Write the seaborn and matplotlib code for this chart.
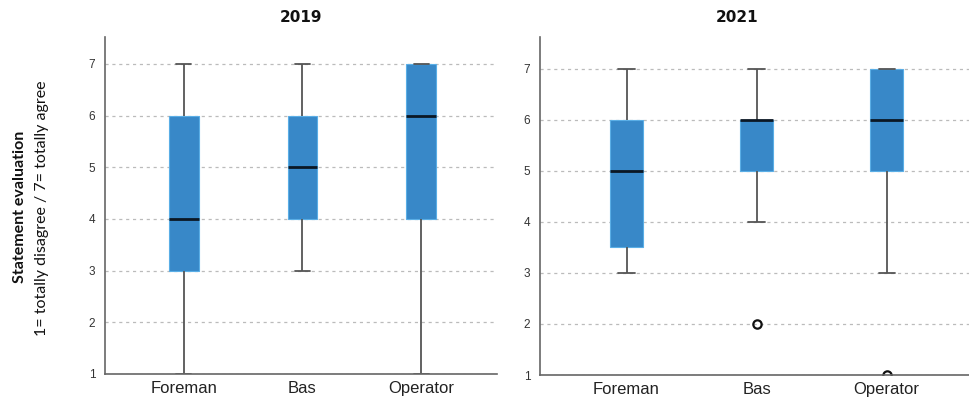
import numpy as np
import pandas as pd
import seaborn as sns
import matplotlib
matplotlib.use("Agg")
import matplotlib.pyplot as plt

# Survey responses (7-point Likert scale) per occupational group
groups = ["Foreman", "Bas", "Operator"]

resp_2019_foreman = [1, 3, 3, 4, 4, 5, 6, 6, 7]
resp_2019_bas = [3, 4, 4, 5, 5, 5, 6, 6, 7]
resp_2019_operator = [1, 4, 4, 5, 6, 6, 7, 7, 7]

resp_2021_foreman = [3, 3, 4, 5, 6, 6, 7]
resp_2021_bas = [2, 4, 5, 5, 6, 6, 6, 6, 7]
resp_2021_operator = [1, 3, 5, 5, 6, 6, 7, 7, 7]

years = ["2019", "2021"]
y_ticks = [1, 2, 3, 4, 5, 6, 7]

ylabel_bold = "Statement evaluation"
ylabel_plain = "1= totally disagree / 7= totally agree"


def long_frame(series):
    rows = []
    for g, vals in zip(groups, series):
        rows += [(g, v) for v in vals]
    return pd.DataFrame(rows, columns=["group", "score"])


data = {
    "2019": long_frame([resp_2019_foreman, resp_2019_bas, resp_2019_operator]),
    "2021": long_frame([resp_2021_foreman, resp_2021_bas, resp_2021_operator]),
}

sns.set_style("white")
plt.rcParams["font.family"] = ["Liberation Sans", "DejaVu Sans"]

fig = plt.figure(figsize=(9.70, 3.99), dpi=100)
axes_rects = {
    "2019": [105 / 970, 1 - 374 / 399, 392 / 970, 337 / 399],
    "2021": [540 / 970, 1 - 375 / 399, 430 / 970, 338 / 399],
}
ytops = {"2019": 7.52, "2021": 7.62}
title_x = {"2019": 301 / 970, "2021": 737 / 970}

box_color = "#3888c8"

for yr in years:
    ax = fig.add_axes(axes_rects[yr])
    sns.boxplot(
        data=data[yr], x="group", y="score", order=groups, ax=ax,
        color=box_color, saturation=1, width=0.25, whis=1.5,
        boxprops=dict(edgecolor="#5aaee6", linewidth=0.8),
        whiskerprops=dict(color="#555555", linewidth=1.3),
        capprops=dict(color="#555555", linewidth=1.3),
        medianprops=dict(color="#0b1724", linewidth=2.0),
        flierprops=dict(marker="o", markerfacecolor="none",
                        markeredgecolor="#111111", markersize=6,
                        markeredgewidth=1.6),
    )
    ax.set_xlim(-0.665, 2.64)
    ax.set_ylim(1, ytops[yr])
    ax.set_yticks(y_ticks)
    ax.set_yticklabels([str(t) for t in y_ticks], fontsize=8.5,
                       color="#333333")
    ax.tick_params(axis="y", length=0, pad=7)
    ax.tick_params(axis="x", length=0, pad=5, labelsize=12,
                   labelcolor="#222222")
    ax.set_xlabel("")
    ax.set_ylabel("")
    ax.set_axisbelow(True)
    ax.yaxis.grid(True, linestyle=(0, (2.5, 3)), color="#bbbbbb",
                  linewidth=0.9)
    ax.xaxis.grid(False)
    for side in ["top", "right"]:
        ax.spines[side].set_visible(False)
    for side in ["left", "bottom"]:
        ax.spines[side].set_color("#666666")
        ax.spines[side].set_linewidth(1.2)
    fig.text(title_x[yr], 1 - 18 / 399, yr, ha="center", va="center",
             fontsize=11, fontweight="bold", color="#111111",
             family=["DejaVu Sans"])

fig.text(20 / 970, 1 - 207 / 399, ylabel_bold, rotation=90, ha="center",
         va="center", fontsize=11.5, fontweight="bold", color="#111111",
         family=["Lato", "DejaVu Sans"])
fig.text(42 / 970, 1 - 208 / 399, ylabel_plain, rotation=90, ha="center",
         va="center", fontsize=11.5, color="#111111",
         family=["Lato", "DejaVu Sans"])

fig.savefig("out.png", dpi=100)
